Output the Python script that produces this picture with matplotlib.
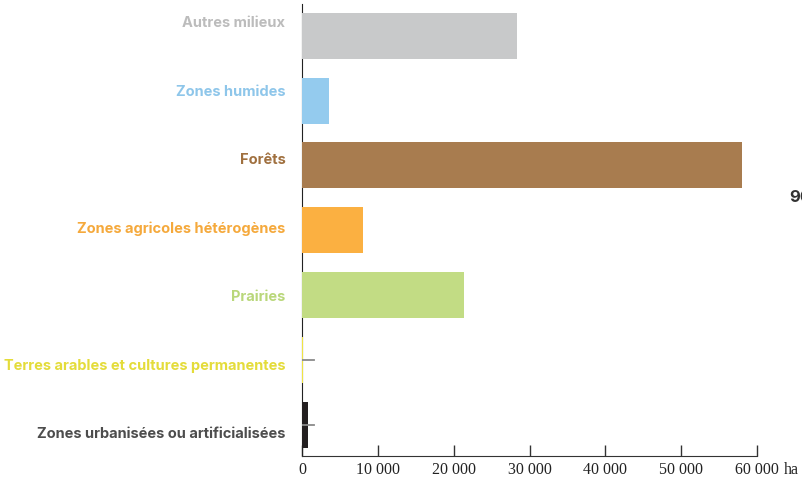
import matplotlib
matplotlib.use("Agg")
import matplotlib.pyplot as plt
from matplotlib.ticker import FuncFormatter

# data, bottom to top
categories = [
    "Zones urbanisées ou artificialisées",
    "Terres arables et cultures permanentes",
    "Prairies",
    "Zones agricoles hétérogènes",
    "Forêts",
    "Zones humides",
    "Autres milieux",
]
surfaces_ha = [800, 150, 21300, 8000, 58000, 3500, 28300]
bar_colors = ["#231f20", "#f0e443", "#c2dc84", "#fbb041", "#a87c4f", "#94cbee", "#c8c9ca"]
label_colors = ["#4d4d4d", "#e4dc3a", "#b9d77a", "#f5a93c", "#a0703f", "#8ec6ea", "#bcbcbc"]
x_ticks = [0, 10000, 20000, 30000, 40000, 50000, 60000]
# small grey marks on the two near-zero bars
marked = [0, 1]
mark_len_ha = 1600

fig = plt.figure(figsize=(8.02, 4.79), dpi=100)
ax = fig.add_axes([0.3766, 0.048, 0.5673, 0.944])

ypos = list(range(len(categories)))
ax.barh(ypos, surfaces_ha, height=0.71, color=bar_colors, zorder=3)

for i in marked:
    ax.plot([0, mark_len_ha], [i, i], color="#8a8a8a", lw=1.3, zorder=4)

ax.set_xlim(0, 60000)
ax.set_ylim(-0.486, 6.494)

# labels are spread a little wider than the bars in the original
ax.set_yticks([i * 1.058 - 0.13 for i in ypos])
ax.set_yticklabels(categories)
ax.tick_params(axis="y", length=0, pad=12)
for lab, c in zip(ax.get_yticklabels(), label_colors):
    lab.set_color(c)
    lab.set_fontfamily("Inter")
    lab.set_fontweight("bold")
    lab.set_fontsize(10.5)

ax.set_xticks(x_ticks)
ax.xaxis.set_major_formatter(FuncFormatter(lambda v, _: f"{int(v):,}".replace(",", " ")))
ax.tick_params(axis="x", direction="in", length=8, width=1, color="#333333",
               pad=4, labelsize=11.5)
for lab in ax.get_xticklabels():
    lab.set_fontfamily("Liberation Serif")
    lab.set_color("#222222")

ax.annotate("ha", xy=(60000, 0), xycoords=("data", "axes fraction"),
            xytext=(19, -4), textcoords="offset points", ha="left", va="top",
            fontsize=11.5, fontfamily="Liberation Serif", color="#222222")

for side in ("top", "right"):
    ax.spines[side].set_visible(False)
ax.spines["left"].set_color("#222222")
ax.spines["bottom"].set_color("#333333")

fig.text(789 / 802, 1 - 197 / 479, "90", fontsize=12, fontweight="bold",
         fontfamily="Inter", color="#333333", va="center", ha="left")

fig.savefig("out.png", dpi=100, facecolor="white")
